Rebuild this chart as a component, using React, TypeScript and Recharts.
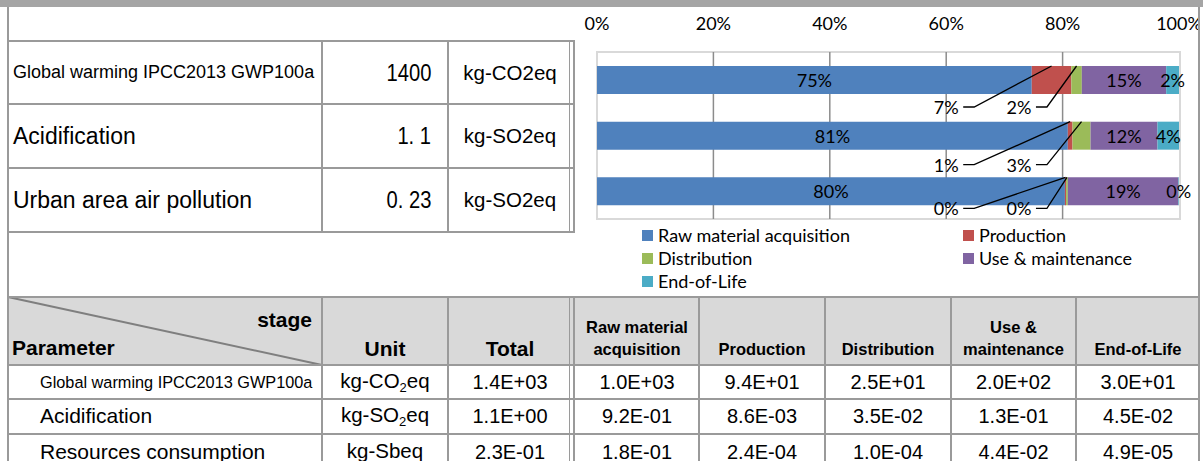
import React from "react";
import { Bar, BarChart, CartesianGrid, LabelList, Legend, XAxis, YAxis } from "recharts";

// share of each life-cycle stage per impact category (%)
const impactCategories = ["Global warming", "Acidification", "Urban area air pollution"];
const rawShare = [74.7, 80.9, 80.4];
const productionShare = [6.8, 0.8, 0.2];
const distributionShare = [1.8, 3.1, 0.3];
const useShare = [14.5, 11.5, 19.0];
const eolShare = [2.2, 3.7, 0.1];
const percentTicks = [0, 20, 40, 60, 80, 100];
const gridTicks = [20, 40, 60, 80];

const stageKeys = ["raw", "production", "distribution", "use", "eol"];
const stageNames = ["Raw material acquisition", "Production", "Distribution", "Use & maintenance", "End-of-Life"];
const stageColors = ["#4f81bd", "#c0504d", "#9bbb59", "#8064a2", "#4bacc6"];

// summary table (top left)
const summaryNames = ["Global warming IPCC2013 GWP100a", "Acidification", "Urban area air pollution"];
const summaryTotals = ["1400", "1. 1", "0. 23"];
const summaryUnits = ["kg-CO2eq", "kg-SO2eq", "kg-SO2eq"];

// detail table (bottom)
const detailNames = ["Global warming IPCC2013 GWP100a", "Acidification", "Resources consumption"];
const detailUnits = [["kg-CO", "2", "eq"], ["kg-SO", "2", "eq"], ["kg-Sbeq", "", ""]];
const detailTotals = ["1.4E+03", "1.1E+00", "2.3E-01"];
const detailRaw = ["1.0E+03", "9.2E-01", "1.8E-01"];
const detailProduction = ["9.4E+01", "8.6E-03", "2.4E-04"];
const detailDistribution = ["2.5E+01", "3.5E-02", "1.0E-04"];
const detailUse = ["2.0E+02", "1.3E-01", "4.4E-02"];
const detailEol = ["3.0E+01", "4.5E-02", "4.9E-05"];

const chartData = impactCategories.map((name, i) => ({
  name,
  raw: rawShare[i],
  production: productionShare[i],
  distribution: distributionShare[i],
  use: useShare[i],
  eol: eolShare[i],
}));

const FONT_TABLE = "'Liberation Sans', Arial, sans-serif";
const FONT_CHART = "Lato, 'Open Sans', sans-serif";
const LINE = "#9a9a9a";

const CHART_LEFT = 580;
const CHART_W = 620;
const CHART_H = 296;
const MARGIN = { top: 0, right: 21, bottom: 77, left: 17 };
const PLOT_W = CHART_W - MARGIN.left - MARGIN.right;
const LEADER_DY = [13, 15, 3];

const pct = (v: number) => `${Math.round(v)}%`;

function HLine({ x1, x2, y, w = 2 }: { x1: number; x2: number; y: number; w?: number }) {
  return <div style={{ position: "absolute", left: x1, top: y - w / 2, width: x2 - x1, height: w, background: LINE }} />;
}

function VLine({ x, y1, y2, w = 2 }: { x: number; y1: number; y2: number; w?: number }) {
  return <div style={{ position: "absolute", left: x - w / 2, top: y1, width: w, height: y2 - y1, background: LINE }} />;
}

function TextBox(props: {
  left: number; right: number; cy: number; size: number;
  align?: "left" | "right" | "center"; bold?: boolean; pad?: number; lh?: number | string;
  children: React.ReactNode;
}) {
  const { left, right, cy, size, align = "center", bold, pad = 0, lh = 1.15, children } = props;
  return (
    <div
      style={{
        position: "absolute", left, width: right - left, top: cy - 30, height: 60,
        display: "flex", alignItems: "center",
        justifyContent: align === "left" ? "flex-start" : align === "right" ? "flex-end" : "center",
        paddingLeft: align === "left" ? pad : 0, paddingRight: align === "right" ? pad : 0,
        boxSizing: "border-box", fontFamily: FONT_TABLE, fontSize: size, fontWeight: bold ? 700 : 400,
        color: "#000", whiteSpace: "nowrap", lineHeight: lh, textAlign: "center",
      }}
    >
      {children}
    </div>
  );
}

function renderTick(props: any) {
  return (
    <text x={props.x} y={29.5} textAnchor="middle" fontFamily={FONT_CHART} fontSize={18} fill="#000">
      {`${props.payload.value}%`}
    </text>
  );
}

function centerLabel(props: any) {
  const vb = props.viewBox ?? props;
  const { x, y, width, height } = vb;
  return (
    <text x={x + width / 2} y={y + height / 2} textAnchor="middle" dominantBaseline="central"
      fontFamily={FONT_CHART} fontSize={18} fill="#000">
      {pct(Number(props.value))}
    </text>
  );
}

function leaderLabel(fraction: number) {
  return (props: any) => {
    const vb = props.viewBox ?? props;
    const { x, y, width, height } = vb;
    const tx = MARGIN.left + PLOT_W * fraction;
    const ty = y + height + LEADER_DY[props.index ?? 0];
    const cx = x + width / 2;
    return (
      <g>
        <polyline points={`${tx + 17},${ty} ${tx + 28},${ty} ${cx},${y}`} fill="none" stroke="#000" strokeWidth={1.3} />
        <text x={tx} y={ty} textAnchor="middle" dominantBaseline="central" fontFamily={FONT_CHART} fontSize={18} fill="#000">
          {pct(Number(props.value))}
        </text>
      </g>
    );
  };
}

function renderLegend(props: any) {
  const items = [...(props.payload ?? [])].sort(
    (a: any, b: any) => stageNames.indexOf(a.value) - stageNames.indexOf(b.value)
  );
  return (
    <div style={{ display: "grid", gridTemplateColumns: "321px 220px", gridAutoRows: "23px", fontFamily: FONT_CHART, fontSize: 18, color: "#000" }}>
      {items.map((it: any) => (
        <div key={it.value} style={{ display: "flex", alignItems: "center", lineHeight: "23px", whiteSpace: "nowrap" }}>
          <span style={{ width: 11, height: 11, background: it.color, marginRight: 5, display: "inline-block" }} />
          <span>{it.value}</span>
        </div>
      ))}
    </div>
  );
}

function ShareChart() {
  return (
    <BarChart width={CHART_W} height={CHART_H} data={chartData} layout="vertical" margin={MARGIN} barSize={28}>
      <CartesianGrid
        horizontal={false}
        stroke="#8c8c8c"
        strokeWidth={1.5}
        verticalCoordinatesGenerator={(p: any) => {
          const o = p?.offset ?? { left: MARGIN.left, width: PLOT_W };
          return gridTicks.map((v) => o.left + (o.width * v) / 100);
        }}
      />
      <XAxis type="number" orientation="top" domain={[0, 100]} ticks={percentTicks} interval={0}
        height={52} axisLine={false} tickLine={false} tick={renderTick} />
      <YAxis type="category" dataKey="name" hide width={0} />
      <Legend layout="horizontal" verticalAlign="middle" align="center" content={renderLegend}
        wrapperStyle={{ top: 224, left: 62, width: 540, height: 70 }} />
      {stageKeys.map((k, i) => (
        <Bar key={k} dataKey={k} name={stageNames[i]} stackId="s" fill={stageColors[i]} isAnimationActive={false}>
          {k === "production" || k === "distribution" ? (
            <LabelList dataKey={k} content={leaderLabel(k === "production" ? 0.6 : 0.725)} />
          ) : (
            <LabelList dataKey={k} content={centerLabel} />
          )}
        </Bar>
      ))}
    </BarChart>
  );
}

const topRows = [41, 104, 168, 232];
const bottomRows = [297, 365, 399, 434];
const detailCols = [8, 322, 448, 572, 699, 825, 951, 1076, 1200];

export default function App() {
  const detailValues = [detailRaw, detailProduction, detailDistribution, detailUse, detailEol];
  return (
    <div style={{ position: "absolute", left: 0, top: 0, width: 1203, height: 461, overflow: "hidden", background: "#fff" }}>
      <div style={{ position: "absolute", left: 0, top: 0, width: 1203, height: 7, background: "#a5a5a5" }} />

      {/* plot frame */}
      <div style={{ position: "absolute", left: 596, top: 51, width: 585, height: 169, border: "2px solid #d9d9d9", boxSizing: "border-box" }} />
      <div style={{ position: "absolute", left: CHART_LEFT, top: 0 }}>
        <ShareChart />
      </div>

      {/* summary table */}
      {topRows.map((y) => <HLine key={y} x1={8} x2={575} y={y} />)}
      <VLine x={322} y1={41} y2={232} />
      <VLine x={448} y1={41} y2={232} />
      <VLine x={569.5} y1={41} y2={232} w={1.5} />
      <VLine x={574} y1={41} y2={232} w={1.5} />
      {summaryNames.map((n, i) => {
        const cy = (topRows[i] + topRows[i + 1]) / 2;
        return (
          <React.Fragment key={n}>
            <TextBox left={8} right={322} cy={cy} size={i === 0 ? 18 : 23} align="left" pad={5}>{n}</TextBox>
            <TextBox left={322} right={448} cy={cy} size={24} align="right" pad={17}>
              <span style={{ display: "inline-block", transform: "scaleX(0.84)", transformOrigin: "right center" }}>{summaryTotals[i]}</span>
            </TextBox>
            <TextBox left={448} right={572} cy={cy} size={20.5}>{summaryUnits[i]}</TextBox>
          </React.Fragment>
        );
      })}

      {/* detail table */}
      <div style={{ position: "absolute", left: 8, top: 297, width: 1192, height: 68, background: "#d9d9d9" }} />
      <svg style={{ position: "absolute", left: 0, top: 0 }} width={1203} height={461}>
        <line x1={8} y1={297} x2={322} y2={365} stroke="#7f7f7f" strokeWidth={2} />
      </svg>
      {bottomRows.map((y) => <HLine key={y} x1={8} x2={1200} y={y} />)}
      {detailCols.slice(1, -1).map((x) =>
        x === 572 ? (
          <React.Fragment key={x}>
            <VLine x={569.5} y1={297} y2={461} w={1.5} />
            <VLine x={574} y1={297} y2={461} w={1.5} />
          </React.Fragment>
        ) : (
          <VLine key={x} x={x} y1={297} y2={461} />
        )
      )}
      <VLine x={8} y1={7} y2={461} />
      <VLine x={1199} y1={7} y2={461} />

      <TextBox left={8} right={322} cy={320} size={21} bold align="right" pad={10}>stage</TextBox>
      <TextBox left={8} right={322} cy={348} size={21} bold align="left" pad={4}>Parameter</TextBox>
      <TextBox left={322} right={448} cy={349} size={21} bold>Unit</TextBox>
      <TextBox left={448} right={572} cy={349} size={21} bold>Total</TextBox>
      <TextBox left={575} right={699} cy={338} size={16.5} bold lh="22px">Raw material<br />acquisition</TextBox>
      <TextBox left={699} right={825} cy={349} size={16.5} bold>Production</TextBox>
      <TextBox left={825} right={951} cy={349} size={16.5} bold>Distribution</TextBox>
      <TextBox left={951} right={1076} cy={338} size={16.5} bold lh="22px">Use &amp;<br />maintenance</TextBox>
      <TextBox left={1076} right={1200} cy={349} size={16.5} bold>End-of-Life</TextBox>

      {detailNames.map((n, i) => {
        const cy = [382, 416, 452][i];
        const u = detailUnits[i];
        return (
          <React.Fragment key={n}>
            <TextBox left={8} right={322} cy={cy} size={i === 0 ? 16.3 : 21} align="left" pad={32}>{n}</TextBox>
            <TextBox left={322} right={448} cy={cy} size={20.5}>
              <span>{u[0]}<sub style={{ fontSize: 13, verticalAlign: -4 }}>{u[1]}</sub>{u[2]}</span>
            </TextBox>
            <TextBox left={448} right={572} cy={cy} size={20}>{detailTotals[i]}</TextBox>
            {detailValues.map((col, j) => (
              <TextBox key={j} left={detailCols[j + 3] + (j === 0 ? 3 : 0)} right={detailCols[j + 4]} cy={cy} size={20}>{col[i]}</TextBox>
            ))}
          </React.Fragment>
        );
      })}
    </div>
  );
}
